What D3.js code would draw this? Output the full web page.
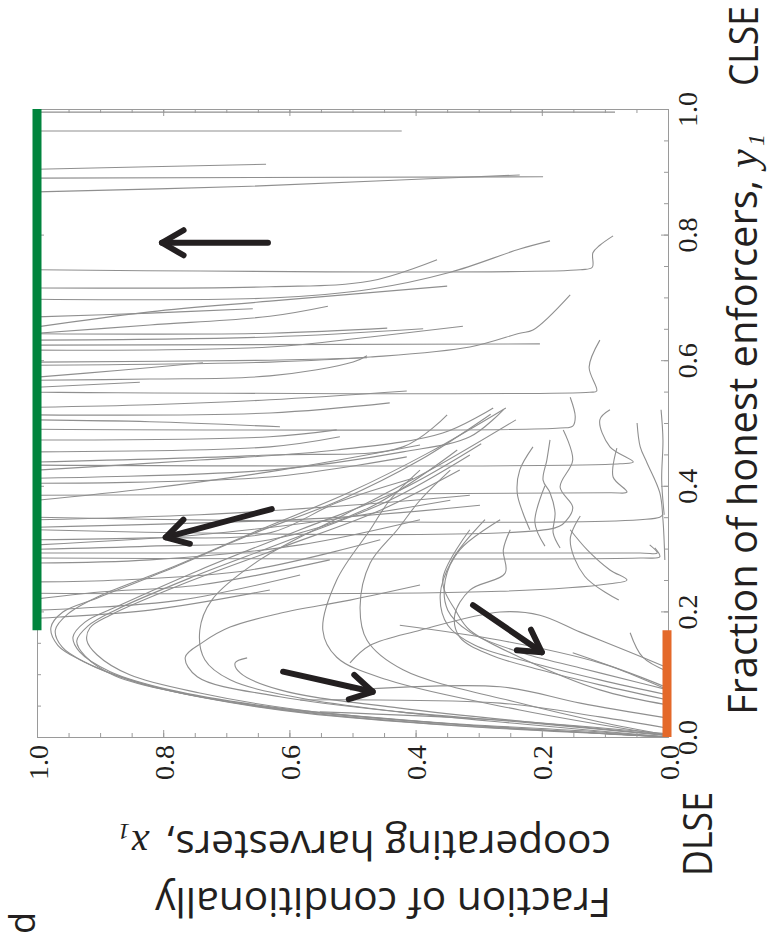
<!DOCTYPE html>
<html><head><meta charset="utf-8">
<script src="https://cdn.jsdelivr.net/npm/d3@7"></script>
<style>body{margin:0;background:#fff}svg{display:block}</style>
</head><body>
<svg id="c" width="770" height="941"></svg>
<script>
// ---------- data (x1 = conditionally cooperating harvesters, y1 = honest enforcers) ----------
const majorTicks = [0, 0.2, 0.4, 0.6, 0.8, 1.0];
const majorLabels = ["0.0", "0.2", "0.4", "0.6", "0.8", "1.0"];
const minorTicks = d3.range(0, 21).map(i => i / 20);
const clseRange = [0.17, 1.0];   // stable CLSE segment at x1 = 1
const dlseRange = [0.0, 0.17];   // stable DLSE segment at x1 = 0

// trajectories ending on the CLSE line (points as [x1, y1])
const clseTrajectories = [
[[0.084,0.995],[1,0.995]],
[[0.422,0.965],[1,0.965]],
[[0.637,0.912],[0.821,0.908],[1,0.904]],
[[0.198,0.892],[1,0.890]],
[[0.235,0.895],[0.425,0.887],[0.662,0.877],[1,0.868]],
[[0.366,0.760],[0.472,0.726],[0.631,0.717],[1,0.715]],
[[0.087,0.798],[0.108,0.783],[0.119,0.771],[0.120,0.748],[0.139,0.744],[1,0.744]],
[[0.187,0.790],[0.235,0.777],[0.345,0.740],[0.472,0.713],[0.631,0.699],[1,0.697]],
[[0.350,0.718],[0.631,0.694],[0.821,0.677],[1,0.653]],
[[0.658,0.682],[0.821,0.675],[1,0.669]],
[[0.539,0.686],[0.631,0.670],[0.821,0.656],[1,0.643]],
[[0.325,0.654],[0.472,0.637],[0.631,0.621],[1,0.616]],
[[0.388,0.650],[0.631,0.637],[1,0.632]],
[[0.445,0.651],[0.631,0.643],[1,0.642]],
[[0.155,0.704],[0.214,0.648],[0.235,0.643],[0.314,0.621],[0.472,0.605],[0.631,0.597],[1,0.592]],
[[0.203,0.626],[1,0.624]],
[[0.477,0.604],[0.631,0.600],[1,0.597]],
[[0.477,0.607],[0.499,0.597],[0.631,0.575],[0.821,0.570],[1,0.568]],
[[0.108,0.632],[0.125,0.589],[0.113,0.551],[0.124,0.549],[1,0.549]],
[[0.414,0.551],[0.631,0.537],[0.821,0.529],[1,0.525]],
[[0.441,0.532],[0.631,0.516],[1,0.513]],
[[0.155,0.541],[0.147,0.510],[0.151,0.495],[0.171,0.492],[1,0.490]],
[[0.615,0.494],[0.821,0.502],[1,0.505]],
[[0.525,0.489],[0.631,0.478],[1,0.473]],
[[0.520,0.478],[0.631,0.462],[1,0.454]],
[[0.350,0.513],[0.420,0.462],[0.631,0.449],[1,0.438]],
[[0.277,0.524],[0.357,0.484],[0.525,0.457],[0.742,0.441],[1,0.425]],
[[0.092,0.521],[0.108,0.505],[0.092,0.462],[0.055,0.438],[0.076,0.435],[1,0.433]],
[[0.261,0.521],[0.314,0.478],[0.420,0.454],[0.631,0.425],[1,0.412]],
[[0.414,0.446],[0.631,0.414],[1,0.404]],
[[0.081,0.460],[0.087,0.414],[0.065,0.390],[0.092,0.389],[1,0.385]],
[[0.404,0.412],[0.525,0.373],[0.631,0.325],[0.821,0.317],[1,0.314]],
[[0.334,0.457],[0.472,0.366],[0.631,0.314],[0.821,0.304],[1,0.299]],
[[0.008,0.355],[0.013,0.350],[1,0.350]],
[[0.166,0.489],[0.151,0.441],[0.171,0.398],[0.151,0.366],[0.160,0.346],[0.179,0.333],[1,0.330]],
[[0.029,0.306],[0.017,0.293],[0.044,0.293],[1,0.293]],
[[0.021,0.301],[0.013,0.287],[0.044,0.285],[1,0.285]],
[[0.155,0.330],[0.128,0.298],[0.092,0.266],[0.065,0.250],[0.092,0.244],[0.266,0.232],[1,0.229]],
[[0.393,0.346],[0.583,0.306],[0.821,0.282],[1,0.277]],
[[0.456,0.314],[0.662,0.266],[0.868,0.250],[1,0.247]],
[[0.536,0.282],[0.742,0.242],[0.900,0.231],[1,0.220]],
[[0.583,0.258],[0.773,0.218],[0.932,0.205],[1,0.202]],
[[0.631,0.234],[0.821,0.202],[0.964,0.191],[1,0.189]],
[[0.345,0.377],[0.536,0.346],[0.742,0.322],[1,0.306]],
[[0.737,0.596],[0.868,0.584],[1,0.573]],
[[0.837,0.565],[1,0.557]],
[[0.393,0.465],[0.615,0.425],[0.821,0.396],[1,0.377]],
[[0.314,0.385],[0.504,0.369],[0.742,0.354],[1,0.346]],
[[0.298,0.369],[0.536,0.349],[1,0.334]]
];

// hook-shaped trajectories that turn back to the DLSE corner
const dlseHooks = [
[[0.281,0.514],[0.393,0.441],[0.520,0.377],[0.662,0.322],[0.800,0.263],[0.905,0.221],[0.959,0.199],[0.978,0.174],[0.967,0.146],[0.932,0.123],[0.853,0.091],[0.742,0.064],[0.583,0.040],[0.345,0.019],[0.108,0.006],[0,0]],
[[0.257,0.524],[0.377,0.454],[0.504,0.390],[0.647,0.330],[0.789,0.269],[0.900,0.225],[0.951,0.196],[0.971,0.170],[0.960,0.143],[0.924,0.119],[0.845,0.088],[0.734,0.062],[0.575,0.038],[0.338,0.018],[0.100,0.005],[0,0]],
[[0.296,0.467],[0.425,0.393],[0.583,0.330],[0.742,0.266],[0.868,0.210],[0.924,0.183],[0.943,0.159],[0.932,0.135],[0.884,0.104],[0.789,0.075],[0.615,0.046],[0.377,0.024],[0.108,0.008],[0,0]],
[[0.330,0.425],[0.456,0.361],[0.615,0.301],[0.773,0.242],[0.884,0.194],[0.916,0.174],[0.921,0.154],[0.905,0.131],[0.853,0.099],[0.742,0.070],[0.583,0.043],[0.345,0.021],[0,0]],
[[0.314,0.449],[0.441,0.377],[0.599,0.314],[0.758,0.253],[0.876,0.202],[0.919,0.177],[0.937,0.153],[0.924,0.129],[0.876,0.097],[0.773,0.070],[0.599,0.043],[0.361,0.022],[0,0]],
[[0.241,0.505],[0.377,0.425],[0.513,0.354],[0.647,0.282],[0.723,0.218],[0.742,0.170],[0.734,0.123],[0.694,0.091],[0.583,0.062],[0.425,0.040],[0.235,0.021],[0,0]],
[[0.393,0.242],[0.504,0.218],[0.615,0.197],[0.694,0.175],[0.737,0.151],[0.765,0.127],[0.746,0.096],[0.615,0.064],[0.425,0.040],[0.235,0.024],[0,0.002]],
[[0.667,0.126],[0.686,0.118],[0.678,0.102],[0.615,0.075],[0.425,0.046],[0,0.003]],
[[0.345,0.425],[0.393,0.377],[0.429,0.330],[0.472,0.277],[0.488,0.207],[0.477,0.154],[0.420,0.107],[0.235,0.054],[0.108,0.024],[0,0.003]],
[[0.393,0.425],[0.441,0.377],[0.472,0.330],[0.525,0.250],[0.547,0.170],[0.525,0.127],[0.445,0.091],[0.235,0.043],[0,0.002]]
];

// S-shaped bundle heading to the DLSE line
const dlseSCurves = [
[[0.266,0.346],[0.330,0.298],[0.353,0.250],[0.349,0.202],[0.314,0.167],[0.235,0.135],[0.139,0.110],[0.044,0.086],[0,0.075]],
[[0.250,0.330],[0.261,0.298],[0.258,0.261],[0.314,0.234],[0.338,0.194],[0.330,0.159],[0.282,0.131],[0.203,0.107],[0.108,0.083],[0,0.059]],
[[0.314,0.330],[0.357,0.250],[0.334,0.197],[0.314,0.170],[0.235,0.127],[0.108,0.075],[0,0.051]],
[[0.290,0.346],[0.342,0.282],[0.361,0.226],[0.349,0.178],[0.306,0.146],[0.219,0.119],[0.108,0.091],[0,0.067]]
];

// short trajectories running straight into the DLSE line
const dlseDirect = [
[[0.504,0.118],[0.472,0.146],[0.393,0.170],[0.266,0.199],[0.203,0.194],[0.139,0.167],[0.060,0.135],[0,0.110]],
[[0.425,0.178],[0.266,0.154],[0.108,0.118],[0,0.078]],
[[0.151,0.134],[0.076,0.107],[0,0.075]],
[[0.060,0.166],[0.040,0.127],[0,0.104]],
[[0.504,0.075],[0.266,0.080],[0.139,0.054],[0,0.030]],
[[0.583,0.059],[0.266,0.054],[0.108,0.032],[0,0.014]],
[[0.552,0.040],[0.266,0.027],[0,0.005]]
];

// wiggly pieces near low x1
const rightWiggles = [
[[0.049,0.500],[0.044,0.462],[0.033,0.436],[0.013,0.389],[0.008,0.346],[0.005,0.282]],
[[0.187,0.473],[0.192,0.441],[0.198,0.409],[0.187,0.389],[0.179,0.357],[0.182,0.325],[0.171,0.301]],
[[0.214,0.462],[0.235,0.425],[0.239,0.389],[0.230,0.357],[0.219,0.330]],
[[0.011,0.521],[0.008,0.473],[0.010,0.409],[0.006,0.354]],
[[0.139,0.352],[0.155,0.314],[0.132,0.256],[0.078,0.218]],
[[0.195,0.400],[0.211,0.342],[0.195,0.304]]
];

// direction arrows: tail -> tip, as [x1, y1]
const arrowTails = [[0.634,0.787],[0.628,0.363],[0.610,0.104],[0.309,0.210]];
const arrowTips  = [[0.802,0.787],[0.796,0.318],[0.468,0.072],[0.200,0.135]];

const xLabelLines = ["Fraction of conditionally", "cooperating harvesters,"];
const yLabelText = "Fraction of honest enforcers,";
const stateLabels = ["CLSE", "DLSE"];
const panelLetter = "d";

// ---------- drawing ----------
const svg = d3.select("#c");
const x = d3.scaleLinear().domain([0, 1]).range([668, 37]);
const y = d3.scaleLinear().domain([0, 1]).range([737, 109]);
const sansFont = "'Open Sans','Noto Sans','DejaVu Sans',sans-serif";
const serifFont = "'Liberation Serif','Times New Roman',serif";
const frameColor = "#9a9a9a";

const line = d3.line().x(d => x(d[0])).y(d => y(d[1])).curve(d3.curveCatmullRom.alpha(0.5));
const allTraj = [...clseTrajectories, ...dlseHooks, ...dlseSCurves, ...dlseDirect, ...rightWiggles];
svg.append("g").selectAll("path").data(allTraj).join("path")
  .attr("d", line).attr("fill", "none").attr("stroke", "#8f8f8f").attr("stroke-width", 1.1);

// frame + ticks (all inward)
function styleAxis(g) {
  g.selectAll("path,line").attr("stroke", frameColor).attr("stroke-width", 1);
}
function addAxis(gen, tr, vals, size, fmt) {
  const g = svg.append("g").attr("transform", tr)
    .call(gen.tickValues(vals).tickSize(size).tickSizeOuter(0).tickFormat(fmt || ""));
  styleAxis(g);
  return g;
}
addAxis(d3.axisBottom(x), `translate(0,${y(0)})`, minorTicks, -4);
const gB = addAxis(d3.axisBottom(x), `translate(0,${y(0)})`, majorTicks, -7, (d, i) => majorLabels[i]);
addAxis(d3.axisTop(x), `translate(0,${y(1)})`, minorTicks, -4);
addAxis(d3.axisTop(x), `translate(0,${y(1)})`, majorTicks, -7);
addAxis(d3.axisLeft(y), `translate(${x(1)},0)`, minorTicks, -4);
addAxis(d3.axisLeft(y), `translate(${x(1)},0)`, majorTicks, -7);
addAxis(d3.axisRight(y), `translate(${x(0)},0)`, minorTicks, -4);
const gR = addAxis(d3.axisRight(y), `translate(${x(0)},0)`, majorTicks, -7, (d, i) => majorLabels[i]);

gB.selectAll("text").attr("transform", "rotate(-90)").attr("x", -8).attr("y", 10).attr("dy", 0)
  .attr("text-anchor", "end").attr("fill", "#231f20")
  .style("font-family", serifFont).style("font-size", "28px");
gR.selectAll("text").attr("transform", "rotate(-90)").attr("x", 0).attr("y", 29).attr("dy", 0)
  .attr("text-anchor", "middle").attr("fill", "#231f20")
  .style("font-family", serifFont).style("font-size", "28px");

// stable equilibrium lines
svg.append("line").attr("x1", x(1)).attr("x2", x(1)).attr("y1", y(clseRange[0])).attr("y2", y(clseRange[1]))
  .attr("stroke", "#00843d").attr("stroke-width", 9);
svg.append("line").attr("x1", x(0) - 1).attr("x2", x(0) - 1).attr("y1", y(dlseRange[0])).attr("y2", y(dlseRange[1]))
  .attr("stroke", "#e4692a").attr("stroke-width", 9);

// arrows
const ag = svg.append("g").attr("stroke", "#231f20").attr("stroke-width", 6).attr("fill", "none")
  .attr("stroke-linecap", "round").attr("stroke-linejoin", "round");
arrowTails.forEach((t, i) => {
  const tip = arrowTips[i];
  const x0 = x(t[0]), y0 = y(t[1]), x1 = x(tip[0]), y1 = y(tip[1]);
  const ang = Math.atan2(y1 - y0, x1 - x0);
  const L = 25, a = 30 * Math.PI / 180;
  ag.append("line").attr("x1", x0).attr("y1", y0).attr("x2", x1).attr("y2", y1);
  ag.append("polyline").attr("points", [
    [x1 - L * Math.cos(ang - a), y1 - L * Math.sin(ang - a)],
    [x1, y1],
    [x1 - L * Math.cos(ang + a), y1 - L * Math.sin(ang + a)]
  ].map(p => p.join(",")).join(" "));
});

// right axis title (rotated)
const gy = svg.append("g").attr("transform", "translate(757,715) rotate(-90)").attr("fill", "#231f20");
gy.append("text").attr("x", 0).attr("y", 0).attr("textLength", 535).attr("lengthAdjust", "spacingAndGlyphs")
  .style("font-family", sansFont).style("font-size", "40px").text(yLabelText);
gy.append("text").attr("x", 547).attr("y", 0).style("font-family", serifFont).style("font-style", "italic")
  .style("font-size", "42px").text("y");
gy.append("text").attr("x", 569).attr("y", 7).style("font-family", serifFont).style("font-style", "italic")
  .style("font-size", "24px").text("1");

// bottom axis title (upside down)
const gx = svg.append("g").attr("transform", "translate(611,888) rotate(180)").attr("fill", "#231f20");
gx.append("text").attr("x", 0).attr("y", 0).attr("textLength", 456).attr("lengthAdjust", "spacingAndGlyphs")
  .style("font-family", sansFont).style("font-size", "40px").text(xLabelLines[0]);
gx.append("text").attr("x", 0).attr("y", 57).attr("textLength", 446).attr("lengthAdjust", "spacingAndGlyphs")
  .style("font-family", sansFont).style("font-size", "40px").text(xLabelLines[1]);
gx.append("text").attr("x", 462).attr("y", 57).style("font-family", serifFont).style("font-style", "italic")
  .style("font-size", "40px").text("x");
gx.append("text").attr("x", 481).attr("y", 64).style("font-family", serifFont).style("font-style", "italic")
  .style("font-size", "24px").text("1");

// state labels and panel letter
svg.append("text").attr("transform", "translate(758,86) rotate(-90)").attr("textLength", 80)
  .attr("lengthAdjust", "spacingAndGlyphs").attr("fill", "#231f20")
  .style("font-family", sansFont).style("font-size", "40px").text(stateLabels[0]);
svg.append("text").attr("transform", "translate(712,876) rotate(-90)").attr("textLength", 84)
  .attr("lengthAdjust", "spacingAndGlyphs").attr("fill", "#231f20")
  .style("font-family", sansFont).style("font-size", "40px").text(stateLabels[1]);
svg.append("text").attr("transform", "translate(35,934) rotate(-90)").attr("fill", "#231f20")
  .style("font-family", sansFont).style("font-size", "36px").text(panelLetter);
</script>
</body></html>
